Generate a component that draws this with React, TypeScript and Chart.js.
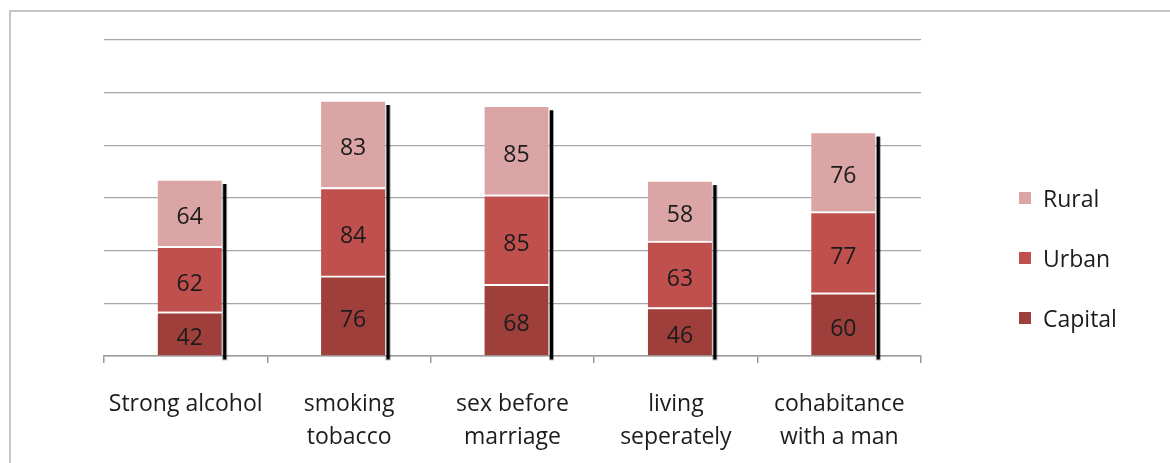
import React, { useEffect, useRef } from "react";
import { Chart, registerables } from "chart.js";

Chart.register(...registerables);

const categories: (string | string[])[] = [
  "Strong alcohol",
  ["smoking", "tobacco"],
  ["sex before", "marriage"],
  ["living", "seperately"],
  ["cohabitance", "with a man"],
];
const seriesNames = ["Capital", "Urban", "Rural"];
const capitalValues = [42, 76, 68, 46, 60];
const urbanValues = [62, 84, 85, 63, 77];
const ruralValues = [64, 83, 85, 58, 76];
const yTickValues = [0, 50, 100, 150, 200, 250, 300];

const seriesColors = ["#9E3F3C", "#C0504D", "#DAA5A4"];
const FONT = "'Open Sans', sans-serif";
const FONT_SIZE = 23;
const TEXT = "#1c1c1c";
const BAR_SHIFT = 4;

const barDecor = {
  id: "barDecor",
  beforeDatasetsDraw(chart: any) {
    chart.ctx.save();
    chart.ctx.translate(BAR_SHIFT, 0);
  },
  afterDatasetsDraw(chart: any) {
    const ctx = chart.ctx;
    const nSets = chart.data.datasets.length;
    const topMeta = chart.getDatasetMeta(nSets - 1);
    const baseMeta = chart.getDatasetMeta(0);
    // shadow on the right of each stack
    topMeta.data.forEach((el: any, i: number) => {
      const { x, y, width } = el.getProps(["x", "y", "width"], true);
      const { base } = baseMeta.data[i].getProps(["base"], true);
      ctx.fillStyle = "rgba(0,0,0,0.35)";
      ctx.fillRect(x + width / 2 + 0.5, y + 5, 5, base - y);
      ctx.fillStyle = "#000";
      ctx.fillRect(x + width / 2 + 1.5, y + 5, 3, base - y - 1);
    });
    // value labels
    ctx.fillStyle = TEXT;
    ctx.font = `${FONT_SIZE}px ${FONT}`;
    ctx.textAlign = "center";
    ctx.textBaseline = "middle";
    chart.data.datasets.forEach((ds: any, d: number) => {
      const meta = chart.getDatasetMeta(d);
      meta.data.forEach((el: any, i: number) => {
        const { x, y, base } = el.getProps(["x", "y", "base"], true);
        ctx.fillText(String(ds.data[i]), x, (y + base) / 2 + 5);
      });
    });
    ctx.restore();
  },
  afterDraw(chart: any) {
    const ctx = chart.ctx;
    const sets = chart.data.datasets.slice().reverse();
    ctx.save();
    ctx.font = `${FONT_SIZE}px ${FONT}`;
    ctx.textAlign = "left";
    ctx.textBaseline = "middle";
    sets.forEach((ds: any, k: number) => {
      const cy = 198 + k * 60;
      ctx.fillStyle = ds.backgroundColor;
      ctx.fillRect(1019, cy - 6, 12, 12);
      ctx.fillStyle = TEXT;
      ctx.fillText(ds.label, 1043, cy + 2);
    });
    ctx.restore();
  },
};

export default function App() {
  const ref = useRef<HTMLCanvasElement>(null);
  useEffect(() => {
    if (!ref.current) return;
    const valueSets = [capitalValues, urbanValues, ruralValues];
    const chart = new Chart(ref.current, {
      type: "bar",
      data: {
        labels: categories,
        datasets: valueSets.map((vals, i) => ({
          label: seriesNames[i],
          data: vals,
          backgroundColor: seriesColors[i],
          borderColor: "#ffffff",
          borderWidth: { top: 2, left: 0, right: 0, bottom: 0 },
          barThickness: 64,
        })),
      },
      options: {
        animation: false,
        responsive: true,
        maintainAspectRatio: false,
        layout: { padding: { left: 104, right: 249, top: 40, bottom: 11 } },
        plugins: { legend: { display: false }, tooltip: { enabled: false } },
        scales: {
          x: {
            stacked: true,
            afterFit: (scale: any) => {
              scale.height = 96;
            },
            grid: {
              display: true,
              drawOnChartArea: false,
              drawTicks: true,
              tickLength: 7,
              color: "#9a9a9a",
              lineWidth: 1.5,
            },
            border: { display: true, color: "#9a9a9a", width: 1.5 },
            ticks: {
              color: TEXT,
              font: { family: FONT, size: FONT_SIZE, lineHeight: 33 / FONT_SIZE },
              padding: 25,
              maxRotation: 0,
              autoSkip: false,
            },
          },
          y: {
            stacked: true,
            min: yTickValues[0],
            max: yTickValues[yTickValues.length - 1],
            ticks: { display: false, stepSize: yTickValues[1] - yTickValues[0] },
            grid: { color: "#a8a8a8", drawTicks: false, lineWidth: 1.3 },
            border: { display: false },
          },
        },
      },
      plugins: [barDecor],
    });
    return () => chart.destroy();
  }, []);

  return (
    <div
      style={{
        position: "fixed",
        left: 0,
        top: 0,
        width: 1170,
        height: 463,
        overflow: "hidden",
        background: "#fff",
      }}
    >
      <div
        style={{
          position: "absolute",
          left: 9,
          top: 10,
          width: 1400,
          height: 700,
          borderLeft: "2px solid #c6c6c6",
          borderTop: "2px solid #c6c6c6",
        }}
      />
      <div style={{ position: "absolute", left: 0, top: 0, width: 1170, height: 463 }}>
        <canvas ref={ref} />
      </div>
    </div>
  );
}
